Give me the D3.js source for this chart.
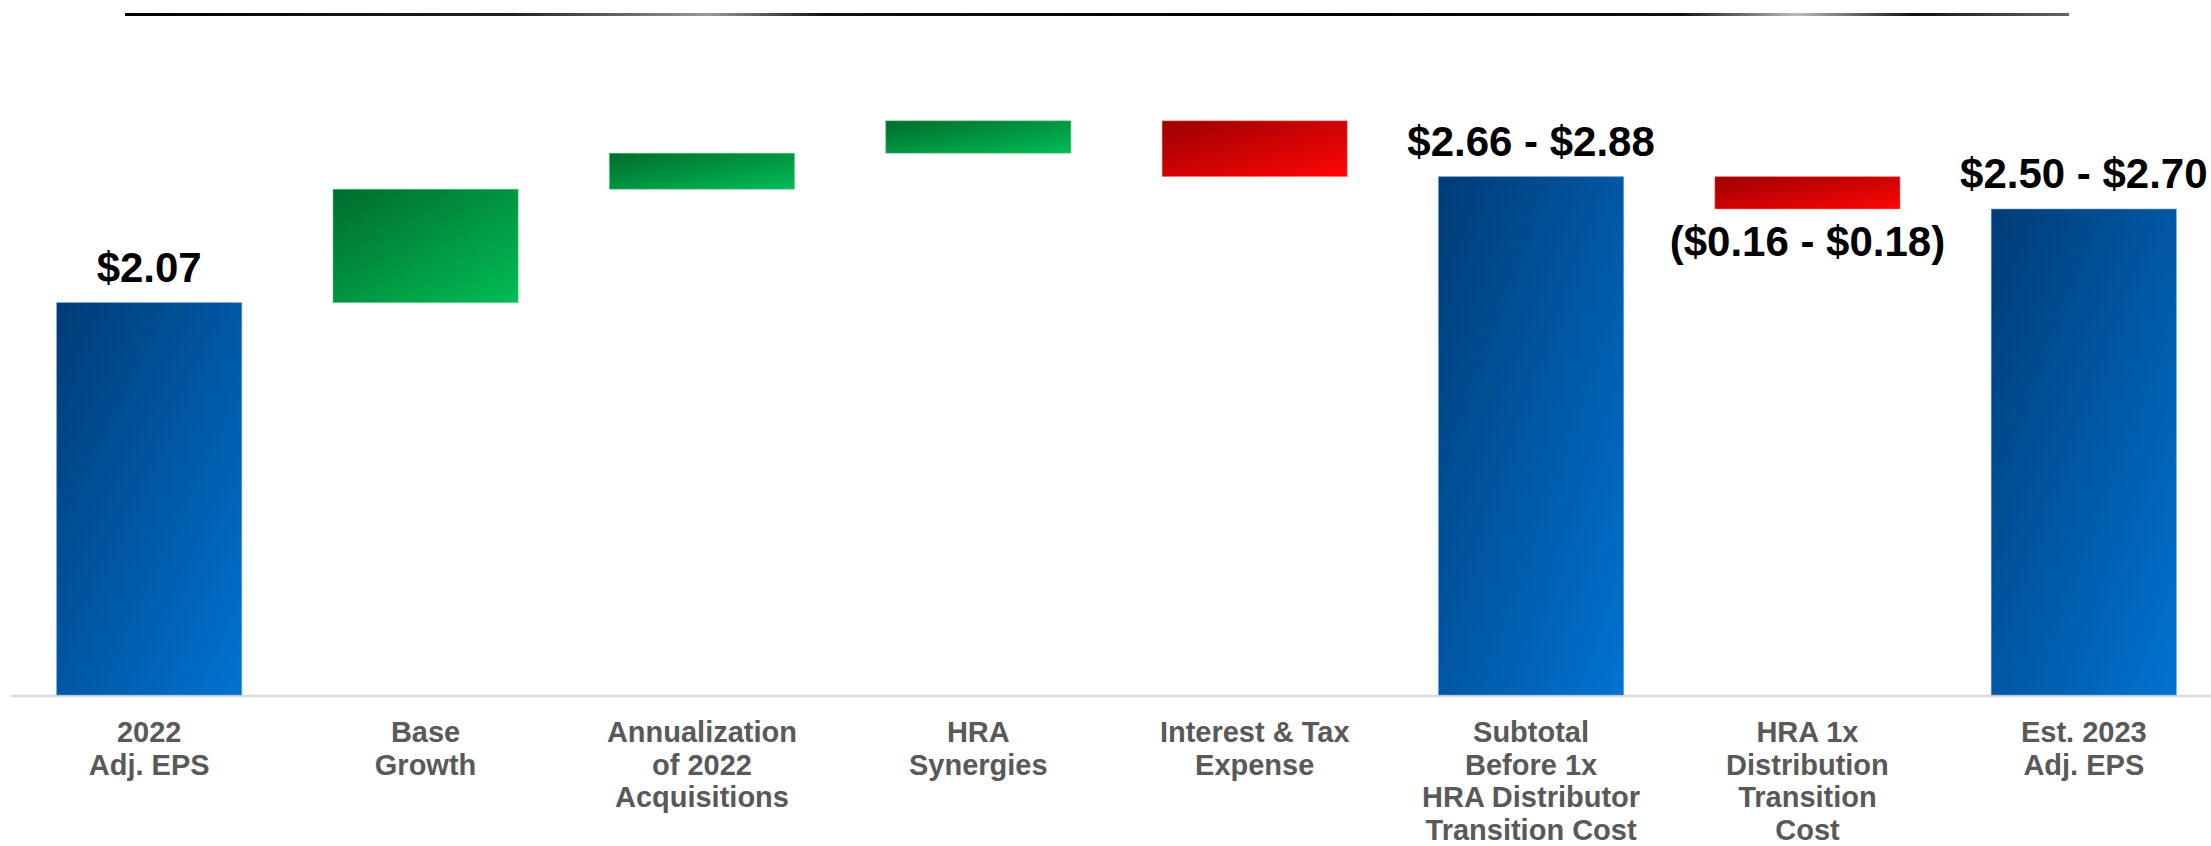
<!DOCTYPE html>
<html>
<head>
<meta charset="utf-8">
<script src="https://cdn.jsdelivr.net/npm/d3@7"></script>
<style>
  html, body { margin: 0; padding: 0; background: #ffffff; overflow: hidden; }
  svg { display: block; }
  text { font-family: "Liberation Sans", Arial, Helvetica, sans-serif; font-weight: bold; }
</style>
</head>
<body>
<svg id="chart" width="2211" height="846"></svg>
<script>
// EPS bridge: 2022 adjusted EPS to the 2023 estimate
const categories = [
  ["2022", "Adj. EPS"],
  ["Base", "Growth"],
  ["Annualization", "of 2022", "Acquisitions"],
  ["HRA", "Synergies"],
  ["Interest & Tax", "Expense"],
  ["Subtotal", "Before 1x", "HRA Distributor", "Transition Cost"],
  ["HRA 1x", "Distribution", "Transition", "Cost"],
  ["Est. 2023", "Adj. EPS"]
];
const barKinds = ["total", "up", "up", "up", "down", "total", "down", "total"];
// totals are absolute EPS (within the stated ranges), steps are changes in EPS
const barValues = [2.07, 0.63, 0.20, 0.18, -0.31, 2.77, -0.18, 2.59];
const valueLabels = ["$2.07", "", "", "", "", "$2.66 - $2.88", "($0.16 - $0.18)", "$2.50 - $2.70"];
const yDomain = [-0.11, 3.2];

const baseY = 696;
const svg = d3.select("#chart");
const defs = svg.append("defs");

function diagGradient(id, from, to) {
  const g = defs.append("linearGradient").attr("id", id)
    .attr("x1", 0).attr("y1", 0).attr("x2", 1).attr("y2", 1);
  g.append("stop").attr("offset", "0%").attr("stop-color", from);
  g.append("stop").attr("offset", "100%").attr("stop-color", to);
}
diagGradient("gradTotal", "#003c76", "#0073d1");
diagGradient("gradUp", "#006c2c", "#00bd55");
diagGradient("gradDown", "#9c0000", "#ff0606");

// header rule
const rule = defs.append("linearGradient").attr("id", "gradRule")
  .attr("x1", 0).attr("y1", 0).attr("x2", 1).attr("y2", 0);
[[0, "#000"], [0.2, "#222"], [0.3, "#9a9a9a"], [0.36, "#111"], [0.6, "#000"],
 [0.8, "#111"], [0.86, "#bdbdbd"], [0.92, "#111"], [1, "#666"]]
  .forEach(([o, c]) => rule.append("stop").attr("offset", o).attr("stop-color", c));
svg.append("rect").attr("x", 125).attr("y", 13).attr("width", 1944).attr("height", 3)
  .attr("fill", "url(#gradRule)");

// waterfall geometry
let running = 0;
const bars = barValues.map((v, i) => {
  let start, end;
  if (barKinds[i] === "total") { start = yDomain[0]; end = v; running = v; }
  else { start = running; end = running + v; running = end; }
  return { i, kind: barKinds[i], start, end, label: valueLabels[i] };
});

const x = d3.scaleBand().domain(d3.range(categories.length))
  .range([11, 2222]).paddingInner(0.33).paddingOuter(0.165);
const y = d3.scaleLinear().domain(yDomain)
  .range([baseY - 1, baseY - 1 - (yDomain[1] - yDomain[0]) * 180]);

// baseline axis with multi-line category labels
const axis = svg.append("g").attr("transform", `translate(0,${baseY})`)
  .call(d3.axisBottom(x).tickSize(0).tickSizeOuter(0).tickFormat(""));
axis.select(".domain").attr("stroke", "#d9d9d9").attr("stroke-width", 2.5)
  .attr("d", "M11,0H2211");
axis.selectAll(".tick text").remove();
axis.selectAll(".tick").append("text")
  .attr("text-anchor", "middle")
  .attr("fill", "#595959")
  .style("font-size", "29px")
  .each(function(d) {
    const t = d3.select(this);
    categories[d].forEach((line, k) => {
      t.append("tspan").attr("x", 0).attr("y", 46 + k * 32.5).text(line);
    });
  });

const fills = { total: "url(#gradTotal)", up: "url(#gradUp)", down: "url(#gradDown)" };
const strokes = { total: "#6f9fd4", up: "#5fd08e", down: "#ff8080" };

svg.append("g").selectAll("rect").data(bars).join("rect")
  .attr("x", d => x(d.i))
  .attr("width", x.bandwidth())
  .attr("y", d => y(Math.max(d.start, d.end)))
  .attr("height", d => Math.abs(y(d.start) - y(d.end)))
  .attr("fill", d => fills[d.kind])
  .attr("stroke", d => strokes[d.kind])
  .attr("stroke-opacity", 0.55)
  .attr("stroke-width", 1);

// value labels: above totals, below the one-time cost step
svg.append("g").selectAll("text").data(bars.filter(d => d.label)).join("text")
  .attr("text-anchor", "middle")
  .attr("fill", "#000")
  .style("font-size", "42px")
  .attr("x", d => x(d.i) + x.bandwidth() / 2)
  .attr("y", d => d.kind === "total"
    ? y(Math.max(d.start, d.end)) - 21
    : y(Math.min(d.start, d.end)) + 47)
  .text(d => d.label);
</script>
</body>
</html>
